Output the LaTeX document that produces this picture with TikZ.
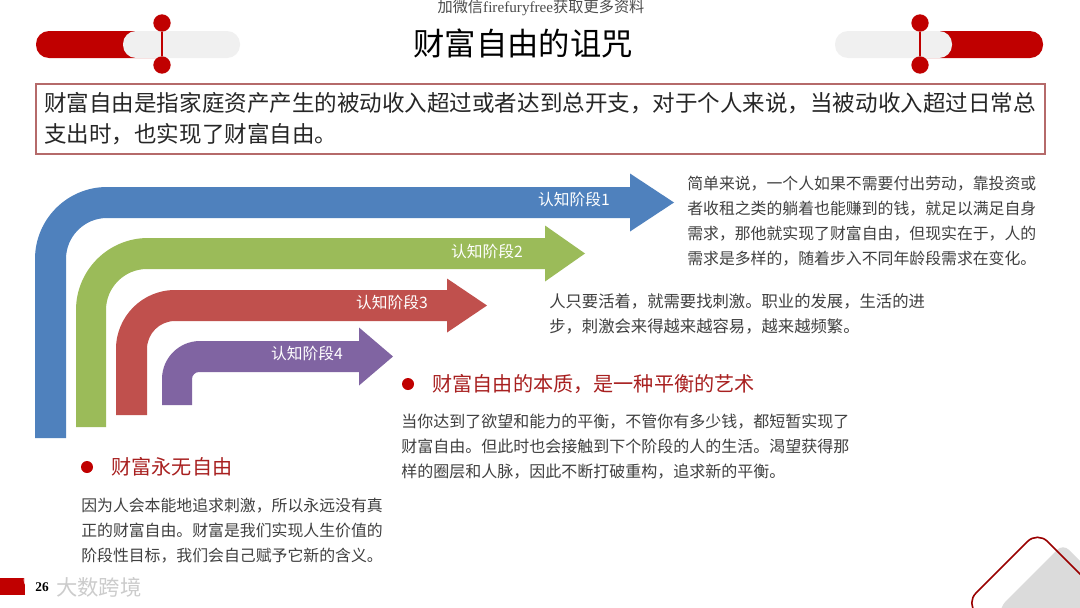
\documentclass[tikz,border=0pt]{standalone}
\usepackage{fontspec}
\setmainfont{Noto Sans CJK SC}
\newfontfamily\latinserif{Liberation Serif}
\usepackage{xcolor}
\usetikzlibrary{positioning,calc}
\definecolor{deepred}{HTML}{C00000}
\definecolor{headred}{HTML}{A82020}
\definecolor{palegray}{HTML}{F0F0F0}
\definecolor{boxred}{HTML}{B56A6A}
\definecolor{bluearrow}{HTML}{4F81BD}
\definecolor{greenarrow}{HTML}{9BBB59}
\definecolor{redarrow}{HTML}{C0504D}
\definecolor{purplearrow}{HTML}{8064A2}
\definecolor{inktext}{HTML}{404040}
\newcommand{\px}{0.75pt}
% colour, x0, x1, bottom, top, outer radius, head base, tip, half head
\newcommand{\bentarrow}[9]{%
  \fill[#1] (#2,#4) -- (#2,#5+#6) arc[start angle=180,end angle=270,radius=#6]
    -- (#7,#5) -- (#7,#5+15.5-#9) -- (#8,#5+15.5) -- (#7,#5+15.5+#9) -- (#7,#5+31)
    -- (#3+#6-31,#5+31) arc[start angle=270,end angle=180,radius=#6-31]
    -- (#3,#4) -- cycle;}
\begin{document}
\begin{tikzpicture}[x=\px,y=-\px,
  stagelbl/.style={text=white,font=\fontsize{11.8pt}{13pt}\selectfont,inner sep=0pt},
  bodytxt/.style={text=inktext,font=\fontsize{11.9pt}{18.7pt}\selectfont,inner sep=0pt,anchor=north west,align=left},
  headtxt/.style={text=headred,font=\fontsize{15.1pt}{17pt}\selectfont,inner sep=0pt,anchor=west},
  reddot/.style={circle,fill=deepred,minimum size=13pt,inner sep=0pt},
  bullet/.style={circle,fill=deepred,minimum size=9pt,inner sep=0pt}]
  \useasboundingbox (0,0) rectangle (1080,607);
  \fill[white] (0,0) rectangle (1080,607);
  % ornaments
  \fill[deepred,rounded corners=13*\px] (36,31) rectangle (170,58);
  \fill[palegray,rounded corners=13*\px] (123,31) rectangle (240,58);
  \node[reddot] (topl) at (162,23) {};
  \node[reddot] (botl) at (162,65) {};
  \draw[deepred,line width=1.3pt] (topl) -- (botl);
  \fill[deepred,rounded corners=13*\px] (910,31) rectangle (1043,58);
  \fill[palegray,rounded corners=13*\px] (835,31) rectangle (952,58);
  \node[reddot] (topr) at (920,23) {};
  \node[reddot] (botr) at (920,65) {};
  \draw[deepred,line width=1.3pt] (topr) -- (botr);
  \node[font=\fontsize{11.4pt}{12pt}\selectfont,text=black!70,inner sep=0pt] (mark) at (541,8) {加微信{\latinserif firefuryfree}获取更多资料};
  \node[font=\fontsize{23.5pt}{26pt}\selectfont,text=black,inner sep=0pt] (title) at (523,43) {财富自由的诅咒};
  % definition box
  \node[draw=boxred,line width=1.5pt,minimum width=1009*\px,minimum height=70*\px,anchor=north west,inner sep=0pt] (defbox) at (35,83) {};
  \node[font=\fontsize{16.9pt}{23.5pt}\selectfont,text=black!85,inner sep=0pt,anchor=north west,align=left] (deftxt) at (44,92)
    {财富自由是指家庭资产产生的被动收入超过或者达到总开支，对于个人来说，当被动收入超过日常总\\支出时，也实现了财富自由。};
  % arrows
  \bentarrow{bluearrow}{35}{66}{438}{187}{72}{630}{674}{29}
  \bentarrow{greenarrow}{76}{106}{427}{238}{72}{545}{585}{28}
  \bentarrow{redarrow}{116}{147}{415}{290}{59}{447}{487}{27}
  \bentarrow{purplearrow}{162}{192}{405}{341}{38}{359}{393}{29}
  \node[stagelbl] (s1) at (574,200) {认知阶段1};
  \node[stagelbl] (s2) at (487,251) {认知阶段2};
  \node[stagelbl] (s3) at (392,302) {认知阶段3};
  \node[stagelbl] (s4) at (307,353) {认知阶段4};
  % texts
  \node[bodytxt] (t1) at (687,176) {简单来说，一个人如果不需要付出劳动，靠投资或\\者收租之类的躺着也能赚到的钱，就足以满足自身\\需求，那他就实现了财富自由，但现实在于，人的\\需求是多样的，随着步入不同年龄段需求在变化。};
  \node[bodytxt,font=\fontsize{12.25pt}{19.2pt}\selectfont] (t2) at (549,293) {人只要活着，就需要找刺激。职业的发展，生活的进\\步，刺激会来得越来越容易，越来越频繁。};
  \node[bullet] (b1) at (408,384) {};
  \node[headtxt,right=18*\px of b1] (h1) {财富自由的本质，是一种平衡的艺术};
  \node[bodytxt,font=\fontsize{12pt}{18.7pt}\selectfont] (t3) at (401,414) {当你达到了欲望和能力的平衡，不管你有多少钱，都短暂实现了\\财富自由。但此时也会接触到下个阶段的人的生活。渴望获得那\\样的圈层和人脉，因此不断打破重构，追求新的平衡。};
  \node[bullet] (b2) at (87,467) {};
  \node[headtxt,right=18*\px of b2] (h2) {财富永无自由};
  \node[bodytxt] (t4) at (81,498) {因为人会本能地追求刺激，所以永远没有真\\正的财富自由。财富是我们实现人生价值的\\阶段性目标，我们会自己赋予它新的含义。};
  % footer
  \fill[deepred] (0,578) rectangle (25,595);
  \draw[white,opacity=.8,line width=2pt] (33,580) circle[radius=8];
  \node[font=\fontsize{10pt}{11pt}\latinserif\bfseries\selectfont,text=black,inner sep=0pt] (page) at (42,587) {26};
  \node[font=\fontsize{16pt}{18pt}\selectfont,text=black!20,inner sep=0pt,anchor=west] (logo) at (56,587) {大数跨境};
  % corner
  \fill[black!14,rounded corners=8*\px] (1000,607) -- (1063,544) -- (1110,591) -- (1110,640) -- (1000,640) -- cycle;
  \draw[deepred!80!black,line width=1.2pt,rounded corners=14*\px] (990,627) -- (966,603) -- (1037.5,531.5) -- (1100,594);
\end{tikzpicture}
\end{document}
